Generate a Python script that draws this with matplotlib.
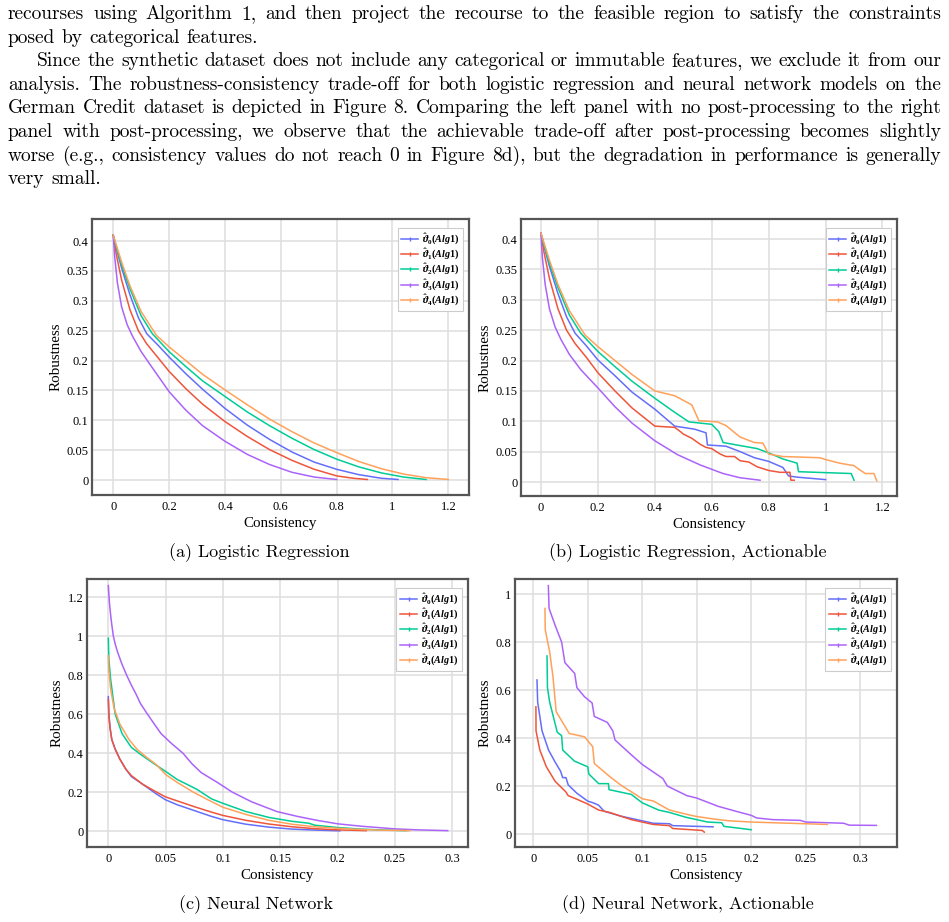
import matplotlib
matplotlib.use("Agg")
import matplotlib.pyplot as plt
from matplotlib.lines import Line2D
from matplotlib.ticker import FuncFormatter, MultipleLocator

plt.rcParams['mathtext.fontset'] = 'custom'
plt.rcParams['mathtext.it'] = 'Liberation Serif:italic:bold'
plt.rcParams['mathtext.rm'] = 'Liberation Serif:bold'
plt.rcParams['mathtext.bf'] = 'Liberation Serif:bold'

W, H = 949, 922

# ---------------- text ----------------
para_lines = [
    "recourses using Algorithm 1, and then project the recourse to the feasible region to satisfy the constraints",
    "posed by categorical features.",
    "Since the synthetic dataset does not include any categorical or immutable features, we exclude it from our",
    "analysis. The robustness-consistency trade-off for both logistic regression and neural network models on the",
    "German Credit dataset is depicted in Figure 8. Comparing the left panel with no post-processing to the right",
    "panel with post-processing, we observe that the achievable trade-off after post-processing becomes slightly",
    "worse (e.g., consistency values do not reach 0 in Figure 8d), but the degradation in performance is generally",
    "very small.",
]
para_justify = [True, False, True, True, True, True, True, False]
para_indent = [0, 0, 1, 0, 0, 0, 0, 0]

captions = ["(a) Logistic Regression", "(b) Logistic Regression, Actionable",
            "(c) Neural Network", "(d) Neural Network, Actionable"]
series_labels = [r'$\hat{\vartheta}_{0}(Alg1)$', r'$\hat{\vartheta}_{1}(Alg1)$',
                 r'$\hat{\vartheta}_{2}(Alg1)$', r'$\hat{\vartheta}_{3}(Alg1)$',
                 r'$\hat{\vartheta}_{4}(Alg1)$']
colors = ['#636EFA', '#EF553B', '#00CC96', '#AB63FA', '#FFA15A']
x_label = "Consistency"
y_label = "Robustness"

# ---------------- data: panel (a) ----------------
a0_x = [0, 0.01, 0.03, 0.06, 0.09, 0.12, 0.16, 0.2, 0.26, 0.32, 0.4, 0.48, 0.56, 0.64, 0.72, 0.8, 0.88, 0.96, 1.02]
a0_y = [0.41, 0.39, 0.355, 0.31, 0.272, 0.245, 0.226, 0.206, 0.178, 0.152, 0.12, 0.092, 0.068, 0.047, 0.03, 0.018, 0.009, 0.003, 0.001]
a1_x = [0, 0.01, 0.03, 0.06, 0.09, 0.12, 0.16, 0.2, 0.26, 0.32, 0.4, 0.48, 0.56, 0.64, 0.72, 0.8, 0.86, 0.91]
a1_y = [0.41, 0.38, 0.335, 0.285, 0.25, 0.228, 0.205, 0.182, 0.153, 0.127, 0.098, 0.073, 0.051, 0.033, 0.018, 0.007, 0.003, 0.001]
a2_x = [0, 0.01, 0.03, 0.06, 0.1, 0.14, 0.2, 0.26, 0.32, 0.4, 0.48, 0.56, 0.64, 0.72, 0.8, 0.88, 0.96, 1.04, 1.12]
a2_y = [0.41, 0.392, 0.36, 0.32, 0.275, 0.245, 0.215, 0.19, 0.166, 0.14, 0.114, 0.091, 0.07, 0.051, 0.035, 0.022, 0.012, 0.005, 0.001]
a3_x = [0, 0.005, 0.015, 0.03, 0.05, 0.07, 0.1, 0.14, 0.2, 0.26, 0.32, 0.4, 0.48, 0.56, 0.64, 0.72, 0.8]
a3_y = [0.41, 0.375, 0.33, 0.29, 0.26, 0.24, 0.215, 0.188, 0.148, 0.117, 0.091, 0.065, 0.043, 0.026, 0.013, 0.005, 0.001]
a4_x = [0, 0.01, 0.03, 0.06, 0.1, 0.155, 0.2, 0.26, 0.32, 0.4, 0.48, 0.56, 0.64, 0.72, 0.8, 0.88, 0.96, 1.04, 1.12, 1.2]
a4_y = [0.41, 0.395, 0.365, 0.325, 0.282, 0.242, 0.223, 0.2, 0.177, 0.151, 0.126, 0.102, 0.081, 0.062, 0.046, 0.031, 0.019, 0.01, 0.004, 0.001]

# ---------------- data: panel (b) ----------------
b0_x = [0, 0.01, 0.03, 0.06, 0.09, 0.12, 0.16, 0.2, 0.26, 0.32, 0.4, 0.47, 0.54, 0.58, 0.585, 0.65, 0.7, 0.75, 0.8, 0.85, 0.87, 0.9, 1.0]
b0_y = [0.41, 0.39, 0.355, 0.31, 0.272, 0.245, 0.224, 0.201, 0.175, 0.148, 0.12, 0.092, 0.087, 0.081, 0.061, 0.059, 0.05, 0.04, 0.034, 0.024, 0.01, 0.008, 0.004]
b1_x = [0, 0.01, 0.03, 0.06, 0.09, 0.12, 0.16, 0.2, 0.26, 0.32, 0.4, 0.47, 0.49, 0.5, 0.53, 0.56, 0.58, 0.6, 0.63, 0.65, 0.68, 0.7, 0.73, 0.76, 0.8, 0.84, 0.875, 0.878, 0.89]
b1_y = [0.41, 0.38, 0.335, 0.285, 0.25, 0.228, 0.205, 0.18, 0.15, 0.122, 0.092, 0.09, 0.083, 0.079, 0.072, 0.062, 0.057, 0.055, 0.046, 0.042, 0.042, 0.035, 0.033, 0.025, 0.019, 0.016, 0.016, 0.003, 0.003]
b2_x = [0, 0.01, 0.03, 0.06, 0.1, 0.14, 0.2, 0.26, 0.32, 0.4, 0.46, 0.52, 0.6, 0.625, 0.64, 0.7, 0.76, 0.8, 0.85, 0.9, 0.905, 1.09, 1.1]
b2_y = [0.41, 0.392, 0.36, 0.32, 0.275, 0.245, 0.215, 0.19, 0.166, 0.138, 0.118, 0.099, 0.095, 0.083, 0.065, 0.06, 0.055, 0.048, 0.038, 0.031, 0.017, 0.014, 0.003]
b3_x = [0, 0.005, 0.015, 0.03, 0.05, 0.07, 0.1, 0.14, 0.2, 0.26, 0.32, 0.4, 0.48, 0.56, 0.64, 0.7, 0.77]
b3_y = [0.41, 0.37, 0.325, 0.285, 0.255, 0.235, 0.21, 0.185, 0.155, 0.124, 0.097, 0.068, 0.045, 0.028, 0.014, 0.007, 0.003]
b4_x = [0, 0.01, 0.03, 0.06, 0.1, 0.155, 0.2, 0.26, 0.32, 0.4, 0.47, 0.53, 0.555, 0.62, 0.65, 0.7, 0.75, 0.78, 0.8, 0.85, 0.98, 1.0, 1.05, 1.1, 1.12, 1.14, 1.17, 1.18]
b4_y = [0.41, 0.395, 0.365, 0.325, 0.282, 0.242, 0.223, 0.2, 0.177, 0.15, 0.142, 0.127, 0.101, 0.099, 0.093, 0.074, 0.065, 0.064, 0.046, 0.042, 0.04, 0.037, 0.031, 0.027, 0.02, 0.014, 0.014, 0.002]

# ---------------- data: panel (c) ----------------
c0_x = [0, 0.0005, 0.0015, 0.003, 0.006, 0.01, 0.015, 0.02, 0.03, 0.042, 0.05, 0.06, 0.075, 0.09, 0.1, 0.12, 0.14, 0.16, 0.18, 0.202]
c0_y = [0.69, 0.6, 0.53, 0.47, 0.42, 0.37, 0.32, 0.28, 0.24, 0.19, 0.16, 0.135, 0.105, 0.075, 0.058, 0.035, 0.02, 0.01, 0.005, 0.001]
c1_x = [0, 0.0005, 0.0015, 0.003, 0.006, 0.01, 0.015, 0.02, 0.03, 0.042, 0.05, 0.06, 0.075, 0.09, 0.1, 0.12, 0.14, 0.16, 0.18, 0.2, 0.225]
c1_y = [0.675, 0.59, 0.53, 0.47, 0.42, 0.37, 0.32, 0.285, 0.24, 0.2, 0.175, 0.155, 0.125, 0.097, 0.08, 0.055, 0.036, 0.022, 0.012, 0.006, 0.002]
c2_x = [0, 0.0005, 0.002, 0.006, 0.012, 0.02, 0.029, 0.04, 0.049, 0.06, 0.077, 0.09, 0.1, 0.12, 0.14, 0.16, 0.175, 0.18, 0.2, 0.22, 0.24, 0.26]
c2_y = [0.99, 0.88, 0.78, 0.6, 0.5, 0.43, 0.39, 0.345, 0.31, 0.265, 0.215, 0.165, 0.142, 0.1, 0.07, 0.05, 0.04, 0.03, 0.018, 0.01, 0.005, 0.002]
c3_x = [0, 0.001, 0.002, 0.003, 0.0044, 0.006, 0.008, 0.012, 0.016, 0.02, 0.024, 0.028, 0.033, 0.04, 0.046, 0.055, 0.065, 0.073, 0.081, 0.095, 0.108, 0.125, 0.147, 0.165, 0.182, 0.2, 0.22, 0.25, 0.27, 0.296]
c3_y = [1.26, 1.17, 1.11, 1.06, 1.0, 0.96, 0.92, 0.855, 0.8, 0.75, 0.705, 0.655, 0.61, 0.55, 0.5, 0.45, 0.4, 0.345, 0.3, 0.25, 0.2, 0.15, 0.1, 0.075, 0.055, 0.037, 0.025, 0.011, 0.006, 0.002]
c4_x = [0, 0.0005, 0.002, 0.005, 0.01, 0.018, 0.025, 0.033, 0.042, 0.05, 0.06, 0.074, 0.087, 0.1, 0.12, 0.14, 0.16, 0.18, 0.2, 0.22, 0.24, 0.263]
c4_y = [0.9, 0.82, 0.73, 0.63, 0.55, 0.47, 0.42, 0.38, 0.34, 0.29, 0.25, 0.2, 0.16, 0.122, 0.085, 0.055, 0.035, 0.022, 0.014, 0.008, 0.004, 0.002]

# ---------------- data: panel (d) ----------------
d0_x = [0.0034, 0.004, 0.008, 0.014, 0.02, 0.025, 0.027, 0.03, 0.032, 0.04, 0.05, 0.055, 0.06, 0.065, 0.08, 0.1, 0.11, 0.125, 0.128, 0.165]
d0_y = [0.642, 0.55, 0.43, 0.35, 0.3, 0.262, 0.235, 0.235, 0.205, 0.17, 0.137, 0.13, 0.12, 0.095, 0.075, 0.055, 0.045, 0.043, 0.035, 0.03]
d1_x = [0.0024, 0.0025, 0.006, 0.012, 0.02, 0.03, 0.032, 0.04, 0.05, 0.06, 0.07, 0.08, 0.09, 0.11, 0.125, 0.128, 0.155, 0.157]
d1_y = [0.53, 0.43, 0.35, 0.28, 0.22, 0.175, 0.16, 0.145, 0.125, 0.1, 0.09, 0.075, 0.06, 0.04, 0.035, 0.023, 0.015, 0.008]
d2_x = [0.0126, 0.013, 0.015, 0.022, 0.026, 0.027, 0.0377, 0.05, 0.051, 0.06, 0.069, 0.0695, 0.09, 0.1, 0.115, 0.125, 0.14, 0.16, 0.173, 0.175, 0.2]
d2_y = [0.742, 0.61, 0.55, 0.424, 0.41, 0.35, 0.304, 0.28, 0.25, 0.21, 0.21, 0.185, 0.165, 0.13, 0.1, 0.09, 0.07, 0.05, 0.047, 0.032, 0.018]
d3_x = [0.0138, 0.0145, 0.02, 0.026, 0.029, 0.038, 0.04, 0.047, 0.054, 0.056, 0.068, 0.073, 0.075, 0.09, 0.1, 0.119, 0.123, 0.141, 0.15, 0.17, 0.19, 0.2, 0.205, 0.22, 0.245, 0.25, 0.285, 0.29, 0.315]
d3_y = [1.035, 0.94, 0.87, 0.8, 0.714, 0.669, 0.61, 0.572, 0.546, 0.49, 0.465, 0.43, 0.392, 0.33, 0.29, 0.231, 0.2, 0.16, 0.15, 0.115, 0.09, 0.078, 0.067, 0.06, 0.057, 0.05, 0.045, 0.037, 0.036]
d4_x = [0.0107, 0.011, 0.015, 0.018, 0.021, 0.033, 0.047, 0.0545, 0.056, 0.07, 0.08, 0.1, 0.11, 0.125, 0.14, 0.15, 0.165, 0.18, 0.2, 0.27]
d4_y = [0.94, 0.85, 0.76, 0.658, 0.51, 0.419, 0.405, 0.364, 0.294, 0.24, 0.205, 0.147, 0.138, 0.1, 0.083, 0.073, 0.063, 0.055, 0.05, 0.04]

panels = [
    dict(xs=[a0_x, a1_x, a2_x, a3_x, a4_x], ys=[a0_y, a1_y, a2_y, a3_y, a4_y]),
    dict(xs=[b0_x, b1_x, b2_x, b3_x, b4_x], ys=[b0_y, b1_y, b2_y, b3_y, b4_y]),
    dict(xs=[c0_x, c1_x, c2_x, c3_x, c4_x], ys=[c0_y, c1_y, c2_y, c3_y, c4_y]),
    dict(xs=[d0_x, d1_x, d2_x, d3_x, d4_x], ys=[d0_y, d1_y, d2_y, d3_y, d4_y]),
]

# ---------------- layout (pixels) ----------------
axes_px = [(92, 219, 469, 495), (521, 219, 897, 496), (87, 579, 468, 847), (515, 579, 897, 847)]
xlims = [(-0.076, 1.274), (-0.070, 1.251), (-0.0186, 0.3137), (-0.0168, 0.3339)]
ylims = [(-0.025, 0.437), (-0.023, 0.433), (-0.082, 1.294), (-0.054, 1.0625)]
xsteps = [0.2, 0.2, 0.05, 0.05]
ysteps = [0.05, 0.05, 0.2, 0.2]
caption_pos = [(259, 553), (688, 553), (256, 905), (688, 905)]

fig = plt.figure(figsize=(W / 100, H / 100), dpi=100)
fig.patch.set_facecolor('white')

def fx(x):
    return x / W

def fy(y):
    return 1 - y / H

def fmt(v, pos):
    s = f"{v:.2f}".rstrip('0').rstrip('.')
    return "0" if s in ("-0", "") else s

for i, p in enumerate(panels):
    l, t, r, b = axes_px[i]
    ax = fig.add_axes([fx(l), fy(b), (r - l) / W, (b - t) / H])
    ax.set_xlim(*xlims[i])
    ax.set_ylim(*ylims[i])
    ax.xaxis.set_major_locator(MultipleLocator(xsteps[i]))
    ax.yaxis.set_major_locator(MultipleLocator(ysteps[i]))
    ax.xaxis.set_major_formatter(FuncFormatter(fmt))
    ax.yaxis.set_major_formatter(FuncFormatter(fmt))
    ax.grid(True, color='#dedede', linewidth=1.1)
    ax.set_axisbelow(True)
    for sp in ax.spines.values():
        sp.set_color('#555555')
        sp.set_linewidth(1.6)
    ax.tick_params(length=0, pad=4)
    ax.tick_params(axis='y', pad=2.5)
    for lab in ax.get_xticklabels() + ax.get_yticklabels():
        lab.set_fontfamily('Liberation Serif')
        lab.set_fontsize(9)
    for k in range(5):
        ax.plot(p['xs'][k], p['ys'][k], color=colors[k], linewidth=1.1, zorder=3)
    ax.set_xlabel(x_label, family='Liberation Serif', fontsize=10.8, labelpad=3)
    ax.set_ylabel(y_label, family='Liberation Serif', fontsize=10.8, labelpad=3)
    handles = [Line2D([], [], color=colors[k], linewidth=1.1, marker='|', markersize=2.5)
               for k in range(5)]
    leg = ax.legend(handles, series_labels, loc='upper right', bbox_to_anchor=(0.99, 0.975),
                    fontsize=7.3, frameon=True, fancybox=False, framealpha=1,
                    edgecolor='#cccccc', handlelength=1.7, handletextpad=0.4,
                    labelspacing=0.0, borderpad=0.35, borderaxespad=0.2)
    leg.get_frame().set_linewidth(0.8)
    cx, cy = caption_pos[i]
    fig.text(fx(cx), fy(cy), captions[i], family='cmr10', fontsize=13,
             ha='center', va='center')

# ---------------- justified paragraph ----------------
renderer = fig.canvas.get_renderer()
left_px, right_px = 8, 941
indent_px = 29
baseline0, line_gap = 19, 23.6
para_size = 14
sp_t = fig.text(0, 0, "a a", family='cmr10', fontsize=para_size)
aa_t = fig.text(0, 0, "aa", family='cmr10', fontsize=para_size)
space_nat = sp_t.get_window_extent(renderer=renderer).width - aa_t.get_window_extent(renderer=renderer).width
sp_t.remove()
aa_t.remove()
for li, line in enumerate(para_lines):
    yb = baseline0 + li * line_gap
    words = line.split(' ')
    x0 = left_px + indent_px * para_indent[li]
    texts = [fig.text(0, fy(yb), w, family='cmr10', fontsize=para_size, va='baseline', ha='left')
             for w in words]
    widths = [t.get_window_extent(renderer=renderer).width for t in texts]
    if para_justify[li] and len(words) > 1:
        gap = (right_px - x0 - sum(widths)) / (len(words) - 1)
    else:
        gap = space_nat
    x = x0
    for t, w in zip(texts, widths):
        t.set_x(fx(x))
        x += w + gap

fig.savefig('out.png', dpi=100, facecolor='white')
